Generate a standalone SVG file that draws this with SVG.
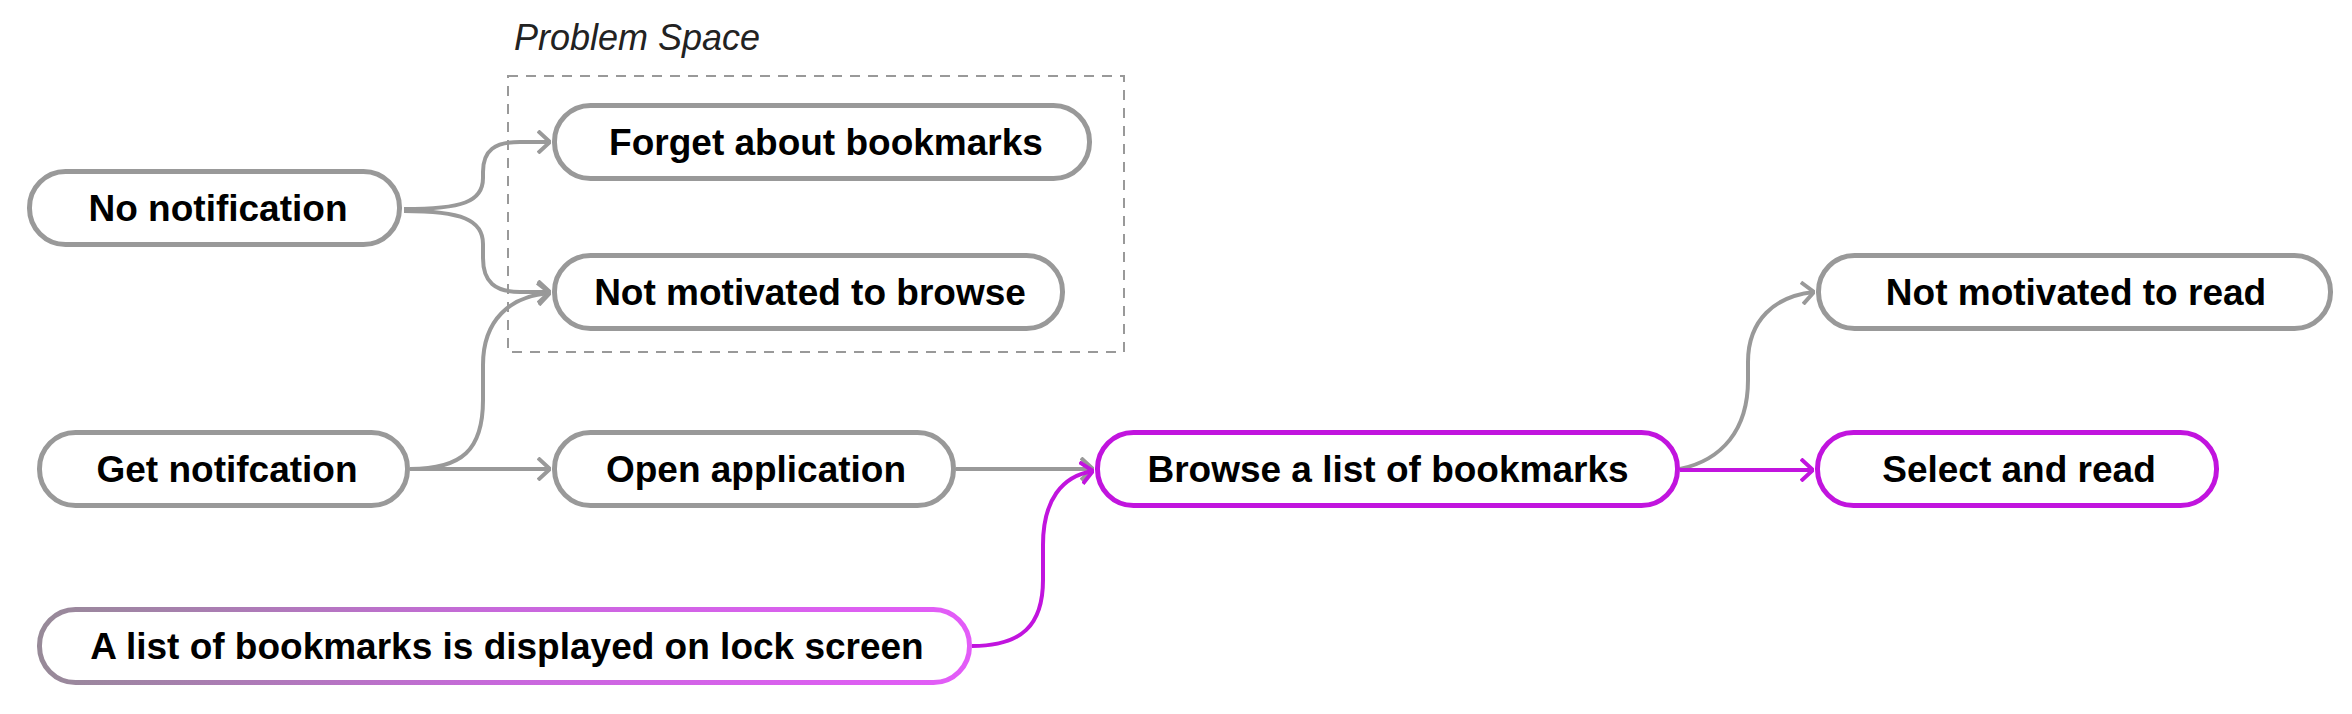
<svg xmlns="http://www.w3.org/2000/svg" width="2352" height="714" viewBox="0 0 2352 714">
<style>
.node rect{fill:#fff;stroke-width:5}
.gray rect{stroke:#999}
.purple rect{stroke:#c114de}
.node text{font-family:"Liberation Sans",Arial,sans-serif;font-weight:bold;font-size:37px;fill:#000;text-anchor:middle;dominant-baseline:central}
.edge{fill:none;stroke-width:4}
.eg{stroke:#999}
.ep{stroke:#c114de}
</style>
<defs>
<marker id="ag" viewBox="0 0 14 24" refX="13" refY="12" markerWidth="14" markerHeight="24" markerUnits="userSpaceOnUse" orient="auto">
<path d="M1,1 L13,12 L1,23" fill="none" stroke="#999" stroke-width="4"/>
</marker>
<marker id="ap" viewBox="0 0 14 24" refX="13" refY="12" markerWidth="14" markerHeight="24" markerUnits="userSpaceOnUse" orient="auto">
<path d="M1,1 L13,12 L1,23" fill="none" stroke="#c114de" stroke-width="4"/>
</marker>
<linearGradient id="lg" x1="0" y1="0" x2="1" y2="0">
<stop offset="0" stop-color="#978a98"/>
<stop offset="0.5" stop-color="#c868dc"/>
<stop offset="1" stop-color="#e35cf8"/>
</linearGradient>
</defs>
<g id="problem-space">
<rect x="508" y="76" width="616" height="276" fill="none" stroke="#999" stroke-width="2" stroke-dasharray="10 8"/>
<text x="514" y="50" font-family="Liberation Sans,Arial,sans-serif" font-style="italic" font-size="36" fill="#222">Problem Space</text>
</g>
<g id="connectors">
<path class="edge eg" d="M404,209 C462,209 483,202 483,178 L483,172 C483,150 495,142 520,142 L550,142" marker-end="url(#ag)"/>
<path class="edge eg" d="M404,211 C462,211 483,220 483,244 L483,258 C483,282 495,292 520,292 L550,292" marker-end="url(#ag)"/>
<path class="edge eg" d="M410,469 C462,469 483,450 483,400 L483,365 C483,320 510,296 550,293" marker-end="url(#ag)"/>
<path class="edge eg" d="M410,469 L550,469" marker-end="url(#ag)"/>
<path class="edge eg" d="M956,469 L1093,469" marker-end="url(#ag)"/>
<path class="edge eg" d="M1680,469 C1722,460 1748,430 1748,380 L1748,362 C1748,320 1775,296 1814,292" marker-end="url(#ag)"/>
<path class="edge ep" d="M972,646 C1022,646 1043,625 1043,580 L1043,545 C1043,500 1062,476 1093,471" marker-end="url(#ap)"/>
<path class="edge ep" d="M1680,470 L1813,470" marker-end="url(#ap)"/>
</g>
<g id="no-notification" class="node gray"><rect x="29.5" y="171.5" width="370" height="73" rx="36"/><text x="218" y="208">No notification</text></g>
<g id="forget" class="node gray"><rect x="554.5" y="105.5" width="535" height="73" rx="36"/><text x="826" y="142">Forget about bookmarks</text></g>
<g id="not-motivated-browse" class="node gray"><rect x="554.5" y="255.5" width="508" height="73" rx="36"/><text x="810" y="292">Not motivated to browse</text></g>
<g id="get-notification" class="node gray"><rect x="39.5" y="432.5" width="368" height="73" rx="36"/><text x="227" y="469">Get notifcation</text></g>
<g id="open-application" class="node gray"><rect x="554.5" y="432.5" width="399" height="73" rx="36"/><text x="756" y="469">Open application</text></g>
<g id="lock-screen" class="node"><rect x="39.5" y="609.5" width="930" height="73" rx="36" stroke="url(#lg)"/><text x="507" y="646">A list of bookmarks is displayed on lock screen</text></g>
<g id="browse" class="node purple"><rect x="1097.5" y="432.5" width="580" height="73" rx="36"/><text x="1388" y="469">Browse a list of bookmarks</text></g>
<g id="not-motivated-read" class="node gray"><rect x="1818.5" y="255.5" width="512" height="73" rx="36"/><text x="2076" y="292">Not motivated to read</text></g>
<g id="select-read" class="node purple"><rect x="1817.5" y="432.5" width="399" height="73" rx="36"/><text x="2019" y="469">Select and read</text></g>
</svg>
